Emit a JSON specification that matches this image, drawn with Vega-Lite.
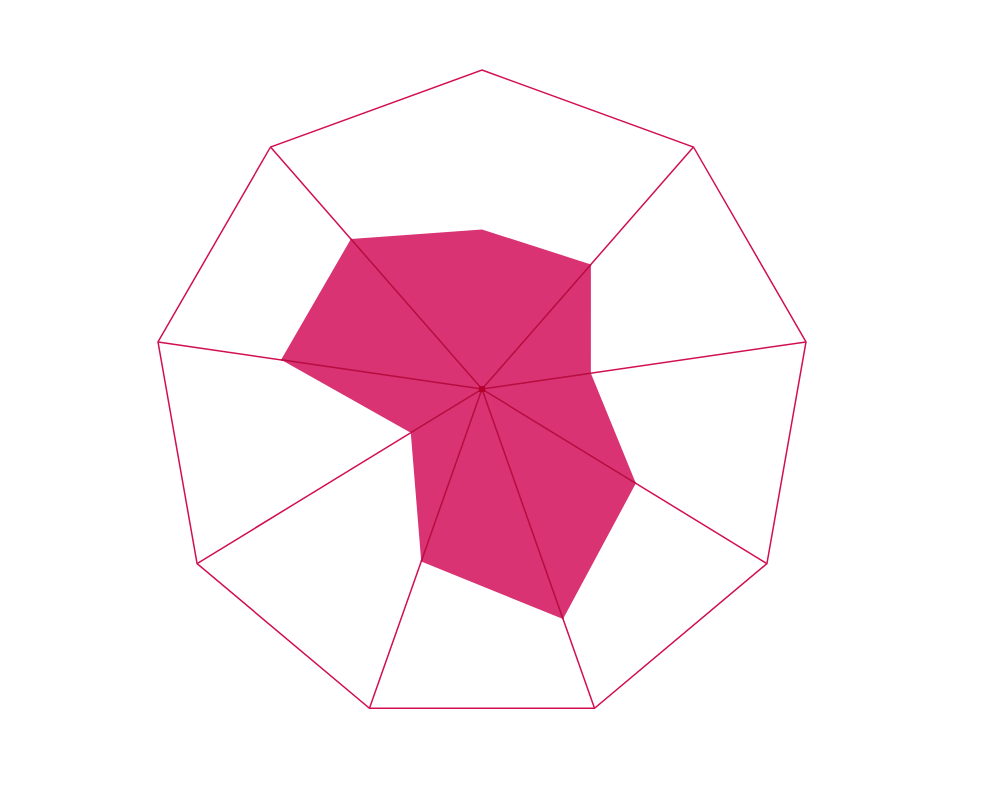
{
  "$schema": "https://vega.github.io/schema/vega-lite/v6.json",
  "width": 658,
  "height": 645,
  "autosize": "none",
  "padding": {"left": 153, "top": 70, "right": 0, "bottom": 0},
  "background": "white",
  "config": {"view": {"stroke": null}},
  "datasets": {
    "radar": [
      {"k": 0, "v": 0.50},
      {"k": 1, "v": 0.515},
      {"k": 2, "v": 0.336},
      {"k": 3, "v": 0.54},
      {"k": 4, "v": 0.72},
      {"k": 5, "v": 0.54},
      {"k": 6, "v": 0.25},
      {"k": 7, "v": 0.62},
      {"k": 8, "v": 0.62}
    ]
  },
  "data": {"name": "radar"},
  "transform": [
    {"calculate": "datum.k * 2 * PI / 9", "as": "theta"},
    {"calculate": "sin(datum.theta)", "as": "ox"},
    {"calculate": "cos(datum.theta)", "as": "oy"},
    {"calculate": "0", "as": "hx"},
    {"calculate": "0.0304", "as": "hy"},
    {"calculate": "datum.hx + datum.v * (datum.ox - datum.hx)", "as": "px"},
    {"calculate": "datum.hy + datum.v * (datum.oy - datum.hy)", "as": "py"}
  ],
  "layer": [
    {
      "mark": {"type": "line", "interpolate": "linear-closed", "color": "#d10f52", "strokeWidth": 1.5},
      "encoding": {
        "x": {"field": "ox", "type": "quantitative", "scale": {"domain": [-1, 1], "nice": false, "zero": false}, "axis": null},
        "y": {"field": "oy", "type": "quantitative", "scale": {"domain": [-0.96, 1], "nice": false, "zero": false}, "axis": null},
        "order": {"field": "k"}
      }
    },
    {
      "transform": [{"filter": "datum.k > 0"}],
      "mark": {"type": "rule", "color": "#d10f52", "strokeWidth": 1.5},
      "encoding": {
        "x": {"field": "hx", "type": "quantitative"},
        "y": {"field": "hy", "type": "quantitative"},
        "x2": {"field": "ox"},
        "y2": {"field": "oy"}
      }
    },
    {
      "mark": {"type": "line", "interpolate": "linear-closed", "filled": true, "color": "#d93373", "strokeWidth": 0},
      "encoding": {
        "x": {"field": "px", "type": "quantitative"},
        "y": {"field": "py", "type": "quantitative"},
        "order": {"field": "k"}
      }
    },
    {
      "transform": [{"filter": "datum.k > 0"}],
      "mark": {"type": "rule", "color": "#b80d40", "strokeWidth": 1.5},
      "encoding": {
        "x": {"field": "hx", "type": "quantitative"},
        "y": {"field": "hy", "type": "quantitative"},
        "x2": {"field": "px"},
        "y2": {"field": "py"}
      }
    },
    {
      "transform": [{"filter": "datum.k == 0"}],
      "mark": {"type": "point", "shape": "square", "filled": true, "size": 36, "color": "#b5002d", "opacity": 1},
      "encoding": {
        "x": {"field": "hx", "type": "quantitative"},
        "y": {"field": "hy", "type": "quantitative"}
      }
    }
  ]
}
